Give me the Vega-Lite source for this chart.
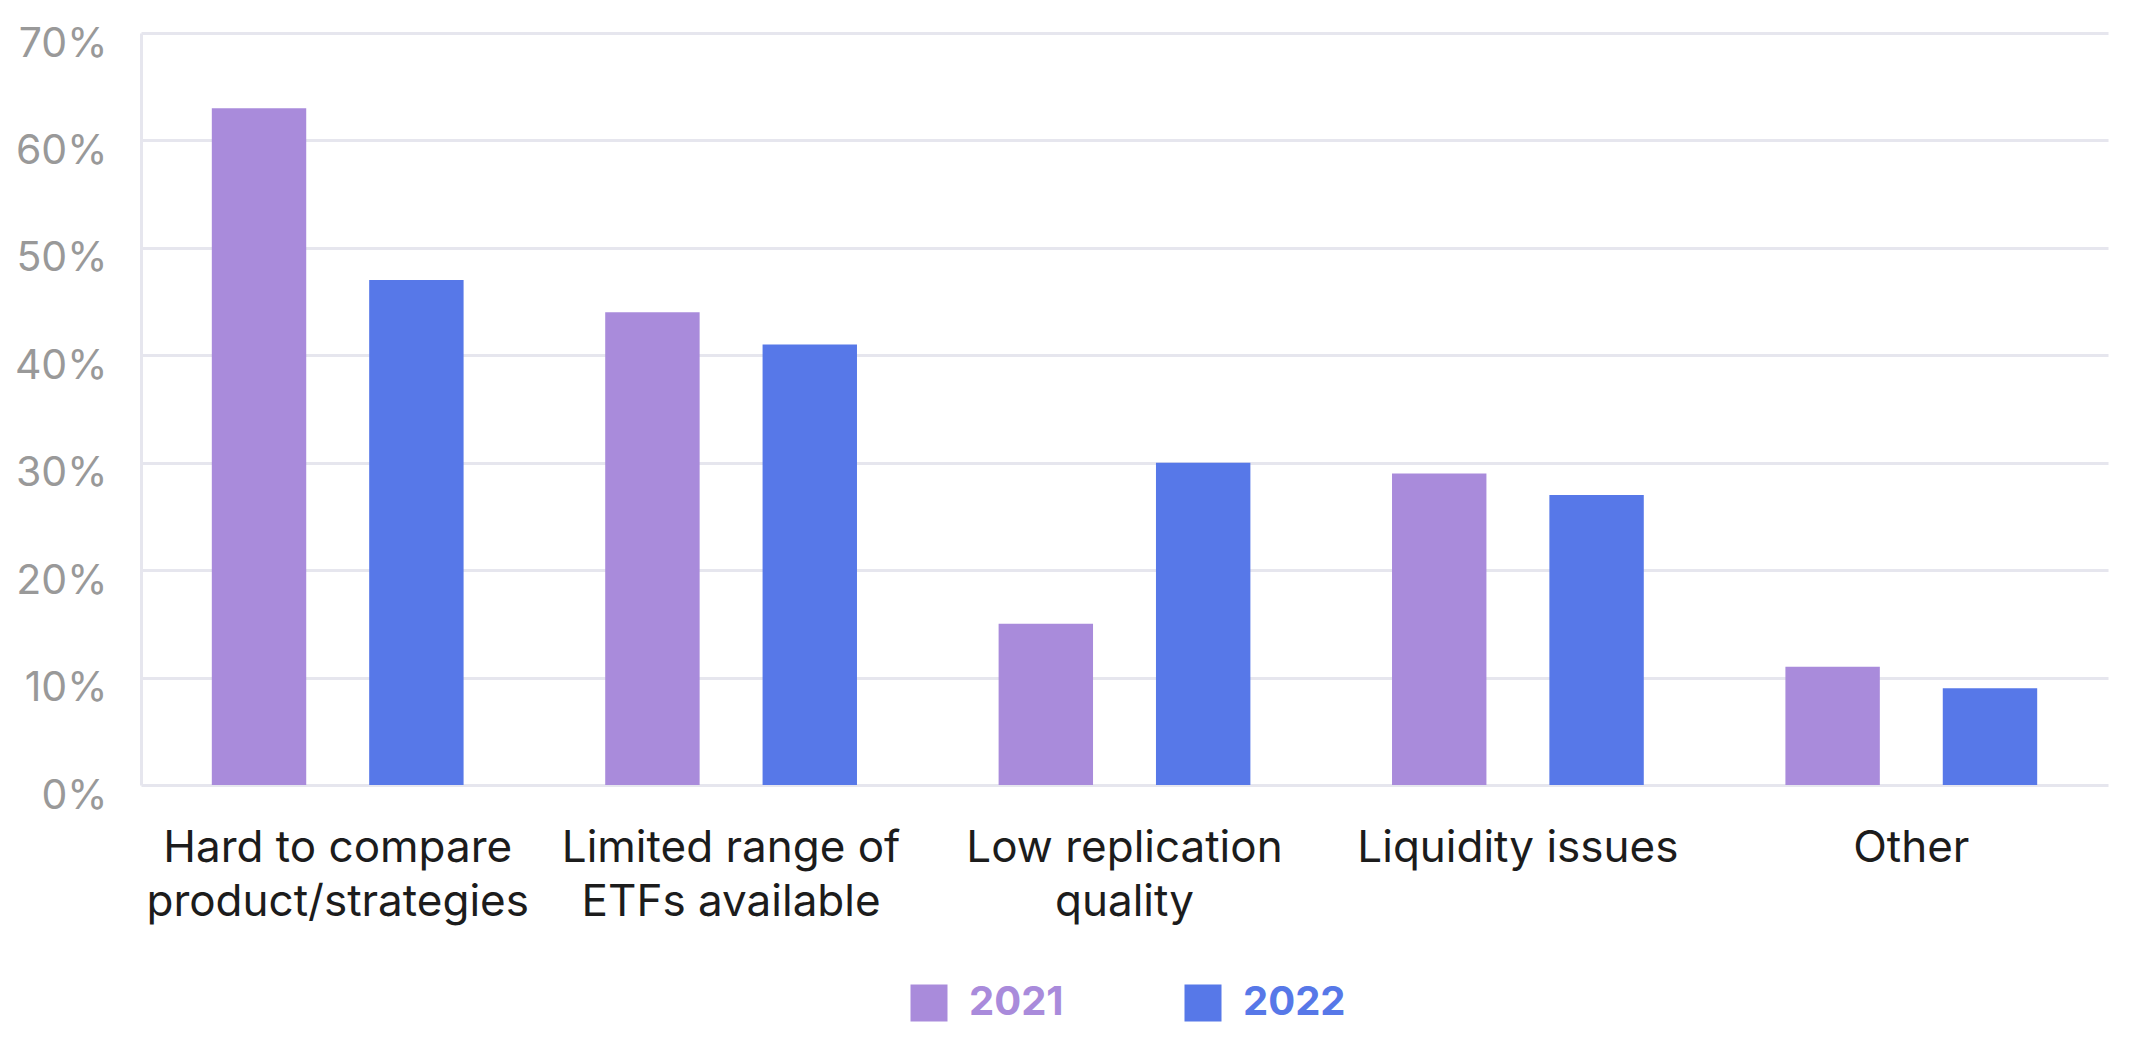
{
  "$schema": "https://vega.github.io/schema/vega-lite/v6.json",
  "autosize": {"type": "none"},
  "padding": {"left": 141, "top": 33, "right": 73, "bottom": 254},
  "width": 1935,
  "height": 752,
  "background": "white",
  "data": {
    "values": [
      {"category": "Hard to compare product/strategies", "year": "2021", "value": 63},
      {"category": "Hard to compare product/strategies", "year": "2022", "value": 47},
      {"category": "Limited range of ETFs available", "year": "2021", "value": 44},
      {"category": "Limited range of ETFs available", "year": "2022", "value": 41},
      {"category": "Low replication quality", "year": "2021", "value": 15},
      {"category": "Low replication quality", "year": "2022", "value": 30},
      {"category": "Liquidity issues", "year": "2021", "value": 29},
      {"category": "Liquidity issues", "year": "2022", "value": 27},
      {"category": "Other", "year": "2021", "value": 11},
      {"category": "Other", "year": "2022", "value": 9}
    ]
  },
  "mark": {"type": "bar"},
  "encoding": {
    "x": {
      "field": "category",
      "type": "nominal",
      "sort": null,
      "scale": {"range": [0, 1967], "paddingInner": 0.36, "paddingOuter": 0.18},
      "axis": {
        "title": null,
        "labelAngle": 0,
        "ticks": false,
        "domain": false,
        "labelPadding": 41,
        "labelFont": "Inter",
        "labelFontSize": 44,
        "labelColor": "#1c1c1c",
        "labelLineHeight": 54,
        "labelLimit": 0,
        "labelExpr": "datum.label == 'Hard to compare product/strategies' ? ['Hard to compare', 'product/strategies'] : datum.label == 'Limited range of ETFs available' ? ['Limited range of', 'ETFs available'] : datum.label == 'Low replication quality' ? ['Low replication', 'quality'] : datum.label"
      }
    },
    "xOffset": {
      "field": "year",
      "type": "nominal",
      "scale": {"paddingInner": 0.4, "paddingOuter": 0}
    },
    "y": {
      "field": "value",
      "type": "quantitative",
      "scale": {"domain": [0, 70], "nice": false},
      "axis": {
        "title": null,
        "values": [0, 10, 20, 30, 40, 50, 60, 70],
        "labelExpr": "datum.value + '%'",
        "ticks": false,
        "domain": true,
        "domainColor": "#e6e6ee",
        "domainWidth": 3,
        "grid": true,
        "gridColor": "#e6e6ee",
        "gridWidth": 3,
        "labelPadding": 34,
        "labelOffset": 11,
        "labelFont": "Inter",
        "labelFontSize": 41,
        "labelColor": "#999999"
      }
    },
    "color": {
      "field": "year",
      "type": "nominal",
      "scale": {"domain": ["2021", "2022"], "range": ["#A98BDB", "#5778E8"]},
      "legend": {
        "title": null,
        "orient": "none",
        "direction": "horizontal",
        "legendX": 768,
        "legendY": 950,
        "symbolType": "square",
        "symbolSize": 1369,
        "symbolStrokeWidth": 0,
        "labelFont": "Inter",
        "labelFontSize": 40,
        "labelFontWeight": "bold",
        "labelOffset": 20,
        "columnPadding": 119,
        "encode": {
          "labels": {"update": {"fill": {"scale": "color", "field": "value"}}}
        }
      }
    }
  },
  "config": {"view": {"stroke": null}}
}
